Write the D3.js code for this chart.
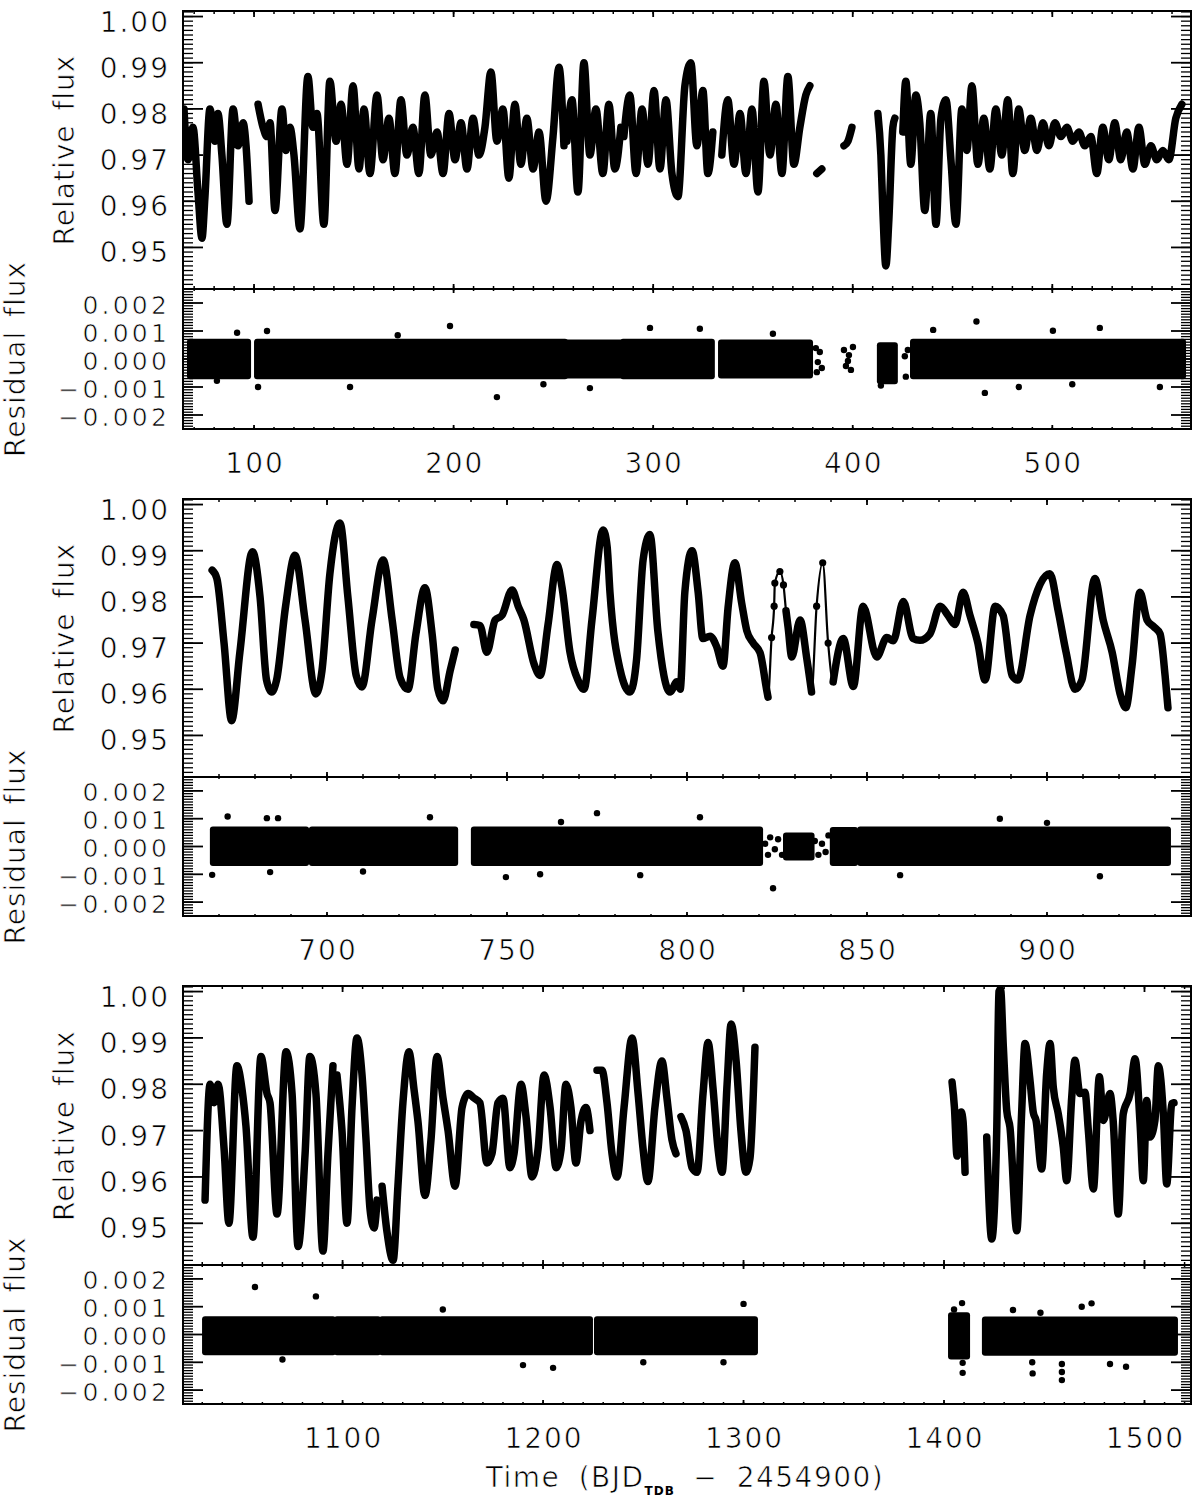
<!DOCTYPE html>
<html><head><meta charset="utf-8">
<script src="https://cdn.jsdelivr.net/npm/d3@7"></script>
<style>body{margin:0;background:#fff}svg{display:block}text{font-family:'DejaVu Sans',sans-serif;fill:#000;stroke:#fff;stroke-width:0.7px}</style>
</head><body><svg id="c" width="1200" height="1502"></svg>
<script>
// ---------------- DATA ----------------
const FLUX_DOMAIN = [0.941, 1.0012];
const RES_DOMAIN = [-0.0025, 0.0025];
const fluxTicks = [0.95, 0.96, 0.97, 0.98, 0.99, 1.00];
const resTicks = [-0.002, -0.001, 0.000, 0.001, 0.002];
const xDomain1 = [64.4, 569.5], xDomain2 = [660, 940], xDomain3 = [1020.4, 1523.2];
const xTicks1 = [100, 200, 300, 400, 500];
const xTicks2 = [700, 750, 800, 850, 900];
const xTicks3 = [1100, 1200, 1300, 1400, 1500];

// light curve segments [time, relative flux]
const lc1 = [
 [[64.9,0.980],[66.9,0.969],[69.4,0.976],[71.9,0.962],[73.9,0.952],[75.4,0.961],[77.9,0.980],[80.4,0.973],[81.9,0.979],[83.9,0.970],[86.4,0.955],[89.5,0.980],[92.0,0.972],[94.5,0.977],[96.0,0.972],[97.5,0.960]],
 [[102.0,0.981],[104.5,0.976],[106.5,0.974],[108.0,0.977],[110.5,0.958],[114.0,0.980],[116.0,0.971],[118.0,0.976],[120.0,0.970],[123.0,0.954],[127.0,0.987],[129.5,0.976],[131.5,0.979],[135.0,0.955],[138.0,0.986],[141.1,0.973],[143.6,0.981],[146.6,0.968],[149.6,0.985],[152.6,0.967],[155.1,0.980],[158.1,0.966],[161.6,0.983],[164.6,0.969],[167.6,0.978],[170.6,0.966],[173.6,0.982],[176.6,0.970],[179.6,0.976],[182.6,0.966],[185.6,0.983],[188.6,0.970],[191.7,0.975],[194.7,0.966],[197.7,0.979],[200.7,0.969],[203.7,0.977],[206.7,0.967],[209.7,0.978],[212.7,0.970],[215.7,0.976],[218.7,0.988],[221.7,0.973],[224.7,0.980],[227.7,0.965],[230.7,0.981],[233.7,0.968],[236.7,0.978],[239.8,0.967],[242.8,0.975],[246.3,0.960],[249.8,0.974],[252.8,0.989],[255.3,0.972]],
 [[256.8,0.973],[259.3,0.982],[262.3,0.962],[265.3,0.990],[268.3,0.970],[271.3,0.980],[274.8,0.966],[277.8,0.981],[280.8,0.967],[283.8,0.976]],
 [[285.3,0.974],[288.3,0.983],[291.4,0.966],[294.4,0.980],[297.4,0.968],[300.4,0.984],[303.4,0.967],[306.4,0.982],[309.4,0.966],[312.4,0.961],[315.9,0.985],[318.9,0.990],[321.9,0.972],[324.9,0.984],[327.4,0.966],[329.9,0.975]],
 [[334.4,0.970],[337.4,0.982],[340.5,0.968],[343.5,0.979],[346.5,0.966],[349.5,0.980],[352.5,0.962],[355.5,0.986],[358.5,0.970],[361.5,0.981],[364.5,0.966],[367.5,0.987],[370.5,0.968],[373.5,0.976],[376.5,0.983],[378.5,0.985]],
 [[382.0,0.966],[384.5,0.967]],
 [[395.6,0.972],[397.6,0.973],[399.6,0.976]],
 [[412.6,0.979],[414.1,0.970],[415.1,0.958],[416.6,0.946],[418.1,0.956],[420.1,0.976],[421.1,0.978]],
 [[425.1,0.975],[426.6,0.986],[429.1,0.968],[431.6,0.983],[433.6,0.977],[436.1,0.958],[439.1,0.979],[441.7,0.955],[444.2,0.978],[446.7,0.982],[449.2,0.969],[451.7,0.955],[454.7,0.980],[457.2,0.971],[459.7,0.985],[462.7,0.968],[465.7,0.978],[468.7,0.967],[471.7,0.980],[474.7,0.970],[477.7,0.982],[480.2,0.966],[483.2,0.980],[486.2,0.971],[489.2,0.978],[492.3,0.971],[495.3,0.977],[498.3,0.972],[501.3,0.977],[504.3,0.974],[507.3,0.976],[510.3,0.973],[513.3,0.975],[516.3,0.972],[519.3,0.974],[522.3,0.966],[525.3,0.976],[528.3,0.969],[531.3,0.977],[534.3,0.969],[537.3,0.975],[540.4,0.967],[543.4,0.976],[546.4,0.968],[549.4,0.972],[552.4,0.969],[555.4,0.971],[558.4,0.969],[561.9,0.978],[564.9,0.981]]
];
const lc2 = [
 [[668.1,0.9858],[669.4,0.984],[671.4,0.970],[673.5,0.9532],[675.8,0.968],[679.3,0.9898],[681.4,0.980],[683.2,0.962],[684.6,0.9594],[686.0,0.962],[688.5,0.978],[691.1,0.989],[693.9,0.975],[696.9,0.959],[698.6,0.964],[700.8,0.985],[703.6,0.996],[705.8,0.980],[708.1,0.963],[709.7,0.9605],[712.5,0.975],[715.6,0.988],[718.1,0.975],[720.3,0.9625],[722.5,0.960],[724.7,0.972],[727.2,0.982],[729.2,0.972],[730.8,0.960],[732.2,0.9575],[734.2,0.964],[735.6,0.9685]],
 [[740.8,0.974],[742.5,0.9738],[744.4,0.968],[746.7,0.975],[748.6,0.976],[751.4,0.9815],[753.1,0.978],[754.7,0.975],[757.5,0.9655],[759.2,0.963],[761.4,0.974],[763.9,0.987],[765.3,0.982],[767.5,0.968],[769.7,0.962],[771.4,0.960],[773.6,0.975],[776.7,0.9945],[777.8,0.991],[778.6,0.981],[781.4,0.9643],[784.2,0.9594],[786.0,0.9665],[787.8,0.988],[789.7,0.9935],[791.9,0.9726],[795.3,0.9594],[797.2,0.9616],[798.1,0.960],[799.4,0.981],[801.4,0.990],[803.1,0.981],[804.4,0.971],[806.4,0.9715],[808.2,0.9693],[810.0,0.965],[811.4,0.9776],[813.3,0.9874],[815.2,0.9786],[816.6,0.9727],[818.4,0.970],[820.3,0.9679],[822.1,0.960],[822.5,0.9583],[823.5,0.9712],[824.2,0.978],[824.4,0.983],[825.8,0.9855],[826.8,0.9826],[827.5,0.977],[828.1,0.9733],[829.1,0.967],[831.4,0.975],[833.3,0.9665],[834.6,0.9594],[836.0,0.978],[837.7,0.9874],[839.2,0.970],[840.6,0.9616],[843.4,0.971],[846.2,0.9606],[848.9,0.978],[852.7,0.967],[855.5,0.9712],[857.3,0.9705],[860.1,0.979],[862.8,0.971],[864.7,0.9706],[867.5,0.972],[870.3,0.978],[872.5,0.976],[874.4,0.974],[876.7,0.981],[878.6,0.976],[880.8,0.970],[882.8,0.962],[885.6,0.978],[887.8,0.976],[890.3,0.963],[891.9,0.962],[895.3,0.976],[900.8,0.985],[903.1,0.977],[905.3,0.968],[907.8,0.960],[909.7,0.962],[913.3,0.984],[915.6,0.975],[918.1,0.968],[920.3,0.959],[921.9,0.956],[923.6,0.965],[925.8,0.981],[927.8,0.975],[929.7,0.9735],[931.4,0.972],[932.8,0.963],[933.6,0.956]]
];
const lc3 = [
 [[1031.4,0.955],[1033.9,0.980],[1035.9,0.976],[1037.9,0.980],[1040.9,0.966],[1043.3,0.950],[1047.3,0.984],[1049.8,0.979],[1051.8,0.971],[1055.3,0.947],[1059.3,0.986],[1062.3,0.978],[1063.8,0.976],[1067.3,0.952],[1071.8,0.987],[1074.8,0.978],[1077.8,0.945],[1081.3,0.965],[1083.7,0.986],[1086.7,0.978],[1090.2,0.944],[1092.7,0.965],[1095.2,0.984]],
 [[1097.2,0.982],[1099.7,0.970],[1102.2,0.950],[1104.7,0.975],[1107.2,0.990],[1109.7,0.982],[1111.7,0.968],[1113.7,0.953],[1115.7,0.949],[1117.2,0.955]],
 [[1119.7,0.958],[1122.2,0.948],[1125.2,0.942],[1127.6,0.958],[1130.1,0.976],[1133.1,0.987],[1135.6,0.979],[1137.6,0.972],[1141.1,0.956],[1144.1,0.968],[1147.1,0.986],[1150.1,0.977],[1152.6,0.970],[1156.1,0.958],[1159.6,0.975],[1162.6,0.978],[1165.6,0.977],[1168.5,0.976],[1172.0,0.963],[1174.5,0.965],[1177.5,0.976],[1180.0,0.977],[1183.5,0.962],[1185.5,0.965],[1189.0,0.980],[1191.5,0.973],[1194.5,0.960],[1197.5,0.966],[1200.5,0.982],[1203.5,0.975],[1206.5,0.962],[1209.0,0.966],[1211.4,0.980],[1213.9,0.975],[1216.4,0.963],[1218.9,0.972],[1221.4,0.975],[1223.4,0.970]],
 [[1226.9,0.983],[1229.4,0.983],[1231.9,0.976],[1234.4,0.965],[1236.9,0.960],[1240.4,0.975],[1244.4,0.990],[1247.4,0.978],[1249.9,0.966],[1252.3,0.959],[1255.8,0.975],[1259.3,0.985],[1261.8,0.977],[1264.3,0.968],[1266.3,0.965]],
 [[1268.8,0.973],[1271.3,0.970],[1274.3,0.962],[1276.8,0.961],[1279.8,0.978],[1282.3,0.989],[1284.8,0.979],[1287.3,0.966],[1289.3,0.961],[1291.8,0.980],[1293.8,0.993],[1296.3,0.985],[1298.7,0.970],[1301.2,0.961],[1303.2,0.964],[1305.7,0.988]],
 [[1404.0,0.9805],[1405.2,0.975],[1406.5,0.9645],[1407.6,0.970],[1408.6,0.974],[1409.5,0.972],[1410.5,0.961]],
 [[1421.3,0.9686],[1423.8,0.9466],[1426.3,0.970],[1427.4,1.000],[1428.2,1.0005],[1429.6,0.988],[1431.3,0.9743],[1432.9,0.9707],[1436.3,0.9484],[1438.7,0.9736],[1440.4,0.9888],[1442.9,0.9808],[1444.5,0.974],[1445.9,0.9722],[1448.7,0.9617],[1451.2,0.9823],[1452.9,0.9888],[1454.5,0.9794],[1457.0,0.9736],[1459.5,0.9664],[1461.2,0.9592],[1463.7,0.9772],[1465.3,0.9852],[1467.8,0.978],[1470.3,0.9783],[1472.0,0.970],[1474.5,0.9574],[1477.5,0.9816],[1479.5,0.9722],[1482.8,0.978],[1484.4,0.972],[1486.9,0.952],[1489.4,0.9736],[1492.8,0.978],[1495.3,0.9855],[1497.8,0.9715],[1499.4,0.9592],[1501.1,0.9765],[1502.7,0.9686],[1505.2,0.9722],[1506.9,0.984],[1509.4,0.9736],[1511.1,0.9585],[1513.6,0.9758],[1514.7,0.976]]
];
// time ranges with sparse sampling (drawn as separate points)
const sparse1 = [];
const sparse2 = [[822.6, 827.3], [834.7, 840.0]];
const sparse3 = [];

// residual bands [tStart, tEnd, low, high]
const res1 = [[67.9,97.0,-0.00072,0.00072],[101.5,255.8,-0.00072,0.00072],[256.8,283.4,-0.0007,0.0007],[284.9,329.4,-0.00072,0.00072],[334.0,378.6,-0.0007,0.0007],[413.6,421.1,-0.0009,0.0006],[430.2,565.5,-0.00072,0.00072]];
const res2 = [[668.3,694.2,-0.0007,0.00072],[695.8,735.6,-0.0007,0.00072],[740.8,820.3,-0.0007,0.00072],[827.5,834.6,-0.0005,0.0005],[840.5,846.7,-0.0007,0.0007],[848.1,933.6,-0.0007,0.00072]];
const res3 = [[1031.4,1095.2,-0.00075,0.00066],[1097.2,1117.7,-0.00075,0.00066],[1119.7,1223.4,-0.00075,0.00066],[1226.9,1305.7,-0.00075,0.00066],[1403.5,1411.5,-0.0009,0.0008],[1420.4,1515.2,-0.00076,0.00065]];
// individual residual points [time, residual]
const pts1 = [[91.5,0.00094],[106.5,0.001],[81.4,-0.00078],[102.0,-0.001],[462.0,0.00134],[466.2,-0.00121],[440.3,0.00104],[500.3,0.00101],[483.2,-0.001],[221.7,-0.00136],[198.2,0.00118],[298.4,0.00111],[268.3,-0.00104],[323.4,0.00108],[148.1,-0.001],[523.8,0.00111],[553.9,-0.001],[381.5,0.00039],[382.5,-0.00011],[383.5,0.00025],[384.5,-0.00032],[382.0,-0.00047],[395.6,0.00032],[396.6,-0.00025],[398.1,0.00014],[399.1,-0.00039],[400.1,0.00043],[397.6,-0.00007],[426.1,0.0001],[426.6,-0.00063],[427.6,0.00032],[414.1,-0.00095],[172.0,0.00085],[245.0,-0.0009],[360.0,0.0009],[510.0,-0.0009]];
const pts2 = [[672.4,0.00108],[668.1,-0.00102],[684.2,-0.00092],[683.3,0.00102],[686.4,0.00102],[728.6,0.00105],[775.0,0.0012],[823.9,-0.0015],[749.7,-0.0011],[787.0,-0.00103],[759.2,-0.001],[803.6,0.00105],[886.9,0.001],[914.7,-0.00107],[859.2,-0.00103],[821.7,0.0001],[823.1,0.00033],[824.4,-0.0001],[825.3,0.00026],[826.4,-0.0003],[822.5,-0.0003],[835.5,0.0002],[836.5,-0.0003],[837.5,0.0001],[838.5,-0.0002],[839.3,0.0004],[765.0,0.00088],[900.0,0.00085],[710.0,-0.0009]];
const pts3 = [[1056.3,0.00171],[1086.7,0.00137],[1434.4,0.00088],[1444.2,-0.0014],[1458.8,-0.00164],[1458.8,-0.00135],[1458.8,-0.00106],[1468.7,0.001],[1473.6,0.00112],[1482.8,-0.00106],[1490.8,-0.00116],[1444.0,-0.001],[1448.1,0.00078],[1409.0,0.00113],[1409.3,-0.00138],[1409.3,-0.00102],[1405.0,0.0009],[1190.0,-0.0011],[1205.0,-0.0012],[1300.0,0.0011],[1290.0,-0.001],[1150.0,0.0009],[1250.0,-0.001],[1070.0,-0.0009]];

// ---------------- DRAWING ----------------
const svg = d3.select('#c');
const defs = svg.append('defs');
const X0 = 183, X1 = 1191;
const layout = [{top:11, mid:289, bot:429}, {top:499, mid:777, bot:916}, {top:986, mid:1265, bot:1404}];
const panels = [
  {domain:xDomain1, ticks:xTicks1, minor:d3.range(70, 570, 10), lc:lc1, sparse:sparse1, bands:res1, pts:pts1},
  {domain:xDomain2, ticks:xTicks2, minor:d3.range(660, 941, 10), lc:lc2, sparse:sparse2, bands:res2, pts:pts2},
  {domain:xDomain3, ticks:xTicks3, minor:d3.range(1030, 1521, 10), lc:lc3, sparse:sparse3, bands:res3, pts:pts3}
];
const fluxMinor = d3.range(941, 1002).map(v => v / 1000);
const resMinor = d3.range(-25, 26).map(v => v / 10000);
const fmtF = d3.format('.2f'), fmtR = d3.format('.3f');
const isSparse = (t, iv) => iv.some(r => t > r[0] && t < r[1]);

function hline(g, x1, x2, y, w) {
  g.append('line').attr('x1', x1).attr('x2', x2).attr('y1', y).attr('y2', y)
   .attr('stroke', '#000').attr('stroke-width', w);
}
function vline(g, x, y1, y2, w) {
  g.append('line').attr('x1', x).attr('x2', x).attr('y1', y1).attr('y2', y2)
   .attr('stroke', '#000').attr('stroke-width', w);
}

panels.forEach((P, i) => {
  const L = layout[i];
  const x = d3.scaleLinear().domain(P.domain).range([X0, X1]);
  const yf = d3.scaleLinear().domain(FLUX_DOMAIN).range([L.mid, L.top]);
  const yr = d3.scaleLinear().domain(RES_DOMAIN).range([L.bot, L.mid]);

  defs.append('clipPath').attr('id', 'cf' + i).append('rect')
    .attr('x', X0).attr('y', L.top).attr('width', X1 - X0).attr('height', L.mid - L.top);
  defs.append('clipPath').attr('id', 'cr' + i).append('rect')
    .attr('x', X0).attr('y', L.mid).attr('width', X1 - X0).attr('height', L.bot - L.mid);

  // light curve
  const gf = svg.append('g').attr('clip-path', `url(#cf${i})`);
  const line = d3.line().x(d => x(d[0])).y(d => yf(d[1])).curve(d3.curveMonotoneX);
  P.lc.forEach(seg => {
    gf.append('path').attr('d', line(seg)).attr('fill', 'none')
      .attr('stroke', '#000').attr('stroke-width', 2.2);
    const runs = []; let run = [];
    seg.forEach(p => {
      if (isSparse(p[0], P.sparse)) { if (run.length) runs.push(run); run = []; }
      else run.push(p);
    });
    if (run.length) runs.push(run);
    runs.forEach(r => {
      if (r.length === 1) {
        gf.append('circle').attr('cx', x(r[0][0])).attr('cy', yf(r[0][1])).attr('r', 3.8);
      } else {
        gf.append('path').attr('d', line(r)).attr('fill', 'none').attr('stroke', '#000')
          .attr('stroke-width', 7.5).attr('stroke-linejoin', 'round').attr('stroke-linecap', 'round');
      }
    });
    gf.selectAll(null).data(seg.filter(p => isSparse(p[0], P.sparse))).join('circle')
      .attr('cx', d => x(d[0])).attr('cy', d => yf(d[1])).attr('r', 3.6);
  });

  // residuals
  const gr = svg.append('g').attr('clip-path', `url(#cr${i})`);
  gr.selectAll(null).data(P.bands).join('rect')
    .attr('x', d => x(d[0]) - 3).attr('width', d => x(d[1]) - x(d[0]) + 6)
    .attr('y', d => yr(d[3])).attr('height', d => yr(d[2]) - yr(d[3]))
    .attr('rx', 3).attr('fill', '#000');
  gr.selectAll(null).data(P.pts).join('circle')
    .attr('cx', d => x(d[0])).attr('cy', d => yr(d[1])).attr('r', 3.2).attr('fill', '#000');

  // axes
  const ga = svg.append('g');
  fluxMinor.forEach(v => { const y = yf(v); hline(ga, X0, X0 + 10, y, 1.3); hline(ga, X1 - 10, X1, y, 1.3); });
  fluxTicks.forEach(v => { const y = yf(v); hline(ga, X0, X0 + 20, y, 1.8); hline(ga, X1 - 20, X1, y, 1.8); });
  resMinor.forEach(v => { const y = yr(v); hline(ga, X0, X0 + 10, y, 1.3); hline(ga, X1 - 10, X1, y, 1.3); });
  resTicks.forEach(v => { const y = yr(v); hline(ga, X0, X0 + 20, y, 1.8); hline(ga, X1 - 20, X1, y, 1.8); });
  P.minor.forEach(v => {
    const xx = x(v);
    vline(ga, xx, L.top, L.top + 3, 1.5); vline(ga, xx, L.mid - 3, L.mid, 1.5);
    vline(ga, xx, L.mid, L.mid + 2, 1.5); vline(ga, xx, L.bot - 2, L.bot, 1.5);
  });
  P.ticks.forEach(v => {
    const xx = x(v);
    vline(ga, xx, L.top, L.top + 6, 1.8); vline(ga, xx, L.mid - 5, L.mid, 1.8);
    vline(ga, xx, L.mid, L.mid + 4, 1.8); vline(ga, xx, L.bot - 4, L.bot, 1.8);
  });
  ga.append('rect').attr('x', X0).attr('y', L.top).attr('width', X1 - X0).attr('height', L.bot - L.top)
    .attr('fill', 'none').attr('stroke', '#000').attr('stroke-width', 2);
  hline(ga, X0, X1, L.mid, 2);

  // labels
  ga.selectAll(null).data(fluxTicks).join('text')
    .attr('x', 170).attr('y', d => yf(d) + 15).attr('text-anchor', 'end')
    .attr('font-size', 28).attr('letter-spacing', 2).text(d => fmtF(d));
  ga.selectAll(null).data(resTicks).join('text')
    .attr('x', 170).attr('y', d => yr(d) + 10.5).attr('text-anchor', 'end')
    .attr('font-size', 25).attr('letter-spacing', 3.2).text(d => fmtR(d));
  ga.selectAll(null).data(P.ticks).join('text')
    .attr('x', d => x(d) + 1).attr('y', L.bot + 44).attr('text-anchor', 'middle')
    .attr('font-size', 28).attr('letter-spacing', 2).text(d => d);

  ga.append('text').attr('transform', `translate(74,${(L.top + L.mid) / 2}) rotate(-90)`)
    .attr('text-anchor', 'middle').attr('font-size', 28).attr('letter-spacing', 1)
    .attr('word-spacing', 4).text('Relative flux');
  ga.append('text').attr('transform', `translate(25,${(L.mid + L.bot) / 2}) rotate(-90)`)
    .attr('text-anchor', 'middle').attr('font-size', 28).attr('letter-spacing', 1)
    .attr('word-spacing', 4).text('Residual flux');
});

// x-axis title
const tt = svg.append('text').attr('x', 685).attr('y', 1487).attr('text-anchor', 'middle')
  .attr('font-size', 28).attr('letter-spacing', 1.5).attr('word-spacing', 8);
tt.append('tspan').text('Time (BJD');
tt.append('tspan').attr('font-size', 12).attr('font-weight', 'bold').attr('dy', 8).attr('letter-spacing', 1)
  .style('stroke', 'none').text('TDB');
tt.append('tspan').attr('dy', -8).text(' \u2212 2454900)');
</script>
</body></html>
